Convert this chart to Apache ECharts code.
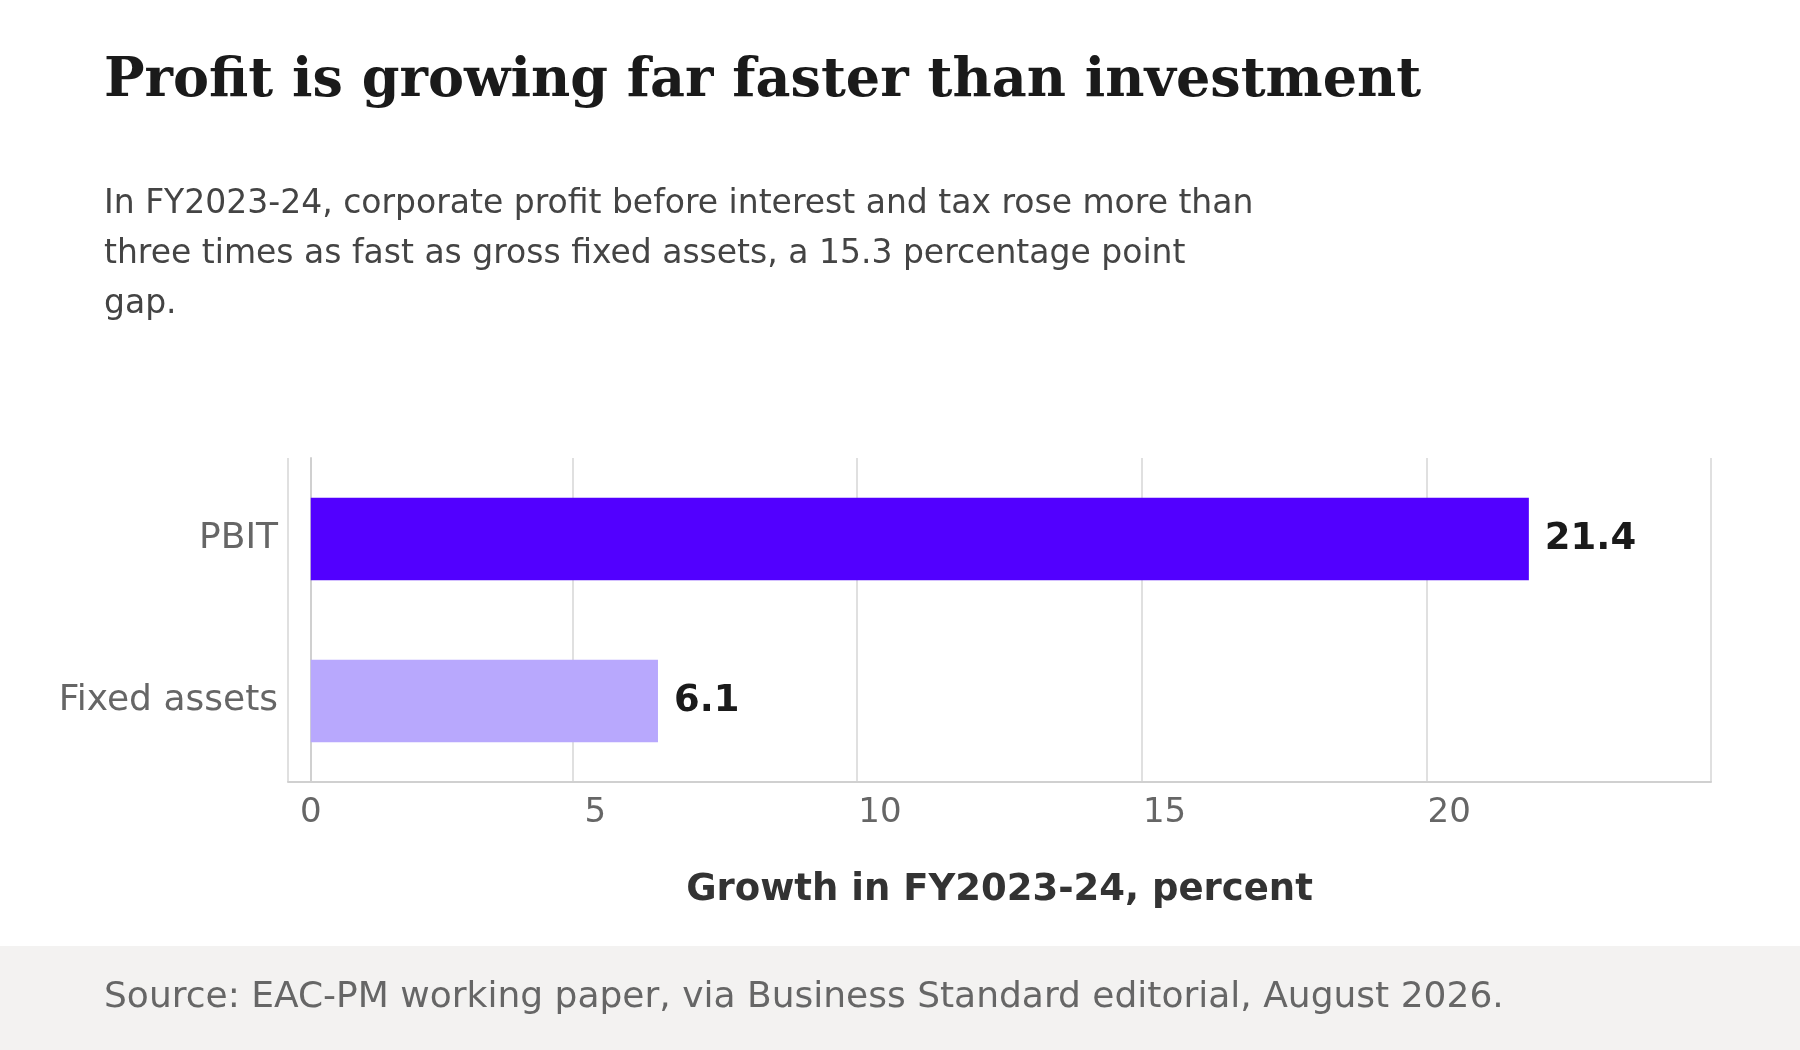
<!DOCTYPE html>
<html>
<head>
<meta charset="utf-8">
<script src="https://cdn.jsdelivr.net/npm/echarts@6/dist/echarts.min.js"></script>
<style>html,body{margin:0;padding:0;background:#fff}#main{width:1800px;height:1050px}</style>
</head>
<body>
<div id="main"></div>
<script>
// data
var categories = ['Fixed assets', 'PBIT'];
var growth = [6.1, 21.4];
var barColors = ['#b8a8fd', '#5200ff'];
var xTicks = [0, 5, 10, 15, 20];

var chart = echarts.init(document.getElementById('main'));
var option = {
  backgroundColor: '#fff',
  textStyle: { fontFamily: 'DejaVu Sans' },
  title: [
    { text: 'Profit is growing far faster than investment', left: 99, top: 50,
      textStyle: { fontFamily: 'DejaVu Serif', fontWeight: 'bold', fontSize: 54, color: '#1a1a1a' } },
    { text: 'In FY2023-24, corporate profit before interest and tax rose more than\nthree times as fast as gross fixed assets, a 15.3 percentage point\ngap.',
      left: 99, top: 174,
      textStyle: { fontFamily: 'DejaVu Sans', fontWeight: 'normal', fontSize: 33, lineHeight: 50, color: '#444' } },
    { text: 'Source: EAC-PM working paper, via Business Standard editorial, August 2026.',
      left: 99, top: 975,
      textStyle: { fontFamily: 'DejaVu Sans', fontWeight: 'normal', fontSize: 36, color: '#666' } }
  ],
  graphic: [
    { type: 'rect', z: -1, shape: { x: 0, y: 946, width: 1800, height: 104 }, style: { fill: '#f3f2f1' } }
  ],
  grid: { left: 288, right: 89, top: 458, bottom: 268 },
  xAxis: {
    type: 'value', min: -0.4, max: 24.6, interval: 5,
    axisLine: { show: true, lineStyle: { color: '#d0d0d0', width: 2 } },
    axisTick: { show: false },
    splitLine: { show: true, lineStyle: { color: '#e0e0e0', width: 2 } },
    axisLabel: { fontSize: 34, color: '#666', margin: 14,
      customValues: xTicks, formatter: function (v) { return String(v); } },
    name: 'Growth in FY2023-24, percent', nameLocation: 'middle', nameGap: 90,
    nameTextStyle: { fontSize: 37, fontWeight: 'bold', color: '#333' }
  },
  yAxis: {
    type: 'category', data: categories,
    axisLine: { show: true, lineStyle: { color: '#d0d0d0', width: 2 } },
    axisTick: { show: false },
    axisLabel: { fontSize: 36, color: '#666', margin: 10 }
  },
  series: [{
    type: 'bar',
    data: growth.map(function (v, i) { return { value: v, itemStyle: { color: barColors[i] } }; }),
    barWidth: '51%',
    label: { show: true, position: 'right', distance: 16, fontSize: 37, fontWeight: 'bold', color: '#1a1a1a',
      formatter: function (p) { return p.value.toFixed(1); } }
  }]
};
chart.setOption(option);
</script>
</body>
</html>
